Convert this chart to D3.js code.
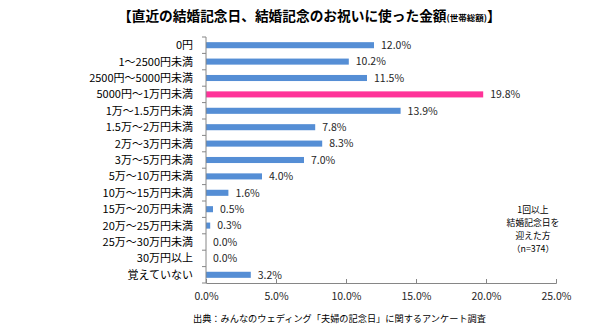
<!DOCTYPE html>
<html>
<head>
<meta charset="utf-8">
<script src="https://cdn.jsdelivr.net/npm/d3@7"></script>
<style>
body { margin: 0; background: #fff; }
svg { display: block; font-family: "Noto Sans CJK JP", sans-serif; }
</style>
</head>
<body>
<svg></svg>
<script>
// chart data
const categories = [
	"0円", "1～2500円未満", "2500円～5000円未満", "5000円～1万円未満",
	"1万～1.5万円未満", "1.5万～2万円未満", "2万～3万円未満", "3万～5万円未満",
	"5万～10万円未満", "10万～15万円未満", "15万～20万円未満", "20万～25万円未満",
	"25万～30万円未満", "30万円以上", "覚えていない"
]
const values = [12.0, 10.2, 11.5, 19.8, 13.9, 7.8, 8.3, 7.0, 4.0, 1.6, 0.5, 0.3, 0.0, 0.0, 3.2]
const highlight = "5000円～1万円未満"
const xTicks = [0, 5, 10, 15, 20, 25]
const noteLines = ["1回以上", "結婚記念日を", "迎えた方", "（n=374）"]

const svg = d3.select("svg")
	.attr("width", 600)
	.attr("height", 330)

const plotLeft = 206, plotRight = 556, plotTop = 37, plotBottom = 283

const x = d3.scaleLinear().domain([0, 25]).range([plotLeft, plotRight])
const y = d3.scaleBand().domain(categories).range([plotTop, plotBottom]).paddingInner(0.63).paddingOuter(0.315)
const rowH = (plotBottom - plotTop) / categories.length

// title
const title = svg.append("text")
	.attr("x", 118).attr("y", 21)
	.style("font-size", "13.7px").style("font-weight", "bold").attr("fill", "#000")
title.append("tspan").text("【直近の結婚記念日、結婚記念のお祝いに使った金額")
title.append("tspan").style("font-size", "8.5px").text("(世帯総額)")
title.append("tspan").text("】")

// bars
svg.append("g").selectAll("rect")
	.data(values)
	.join("rect")
	.attr("x", x(0))
	.attr("y", (d, i) => y(categories[i]))
	.attr("width", d => x(d) - x(0))
	.attr("height", y.bandwidth())
	.attr("fill", (d, i) => categories[i] === highlight ? "#FF3399" : "#558ED5")

// value labels
svg.append("g").selectAll("text")
	.data(values)
	.join("text")
	.attr("x", d => x(d) + 7)
	.attr("y", (d, i) => y(categories[i]) + y.bandwidth() / 2)
	.attr("dy", "0.36em")
	.style("font-size", "10.5px")
	.attr("fill", "#262626")
	.text(d => d.toFixed(1) + "%")

// left axis, ticks sit between the rows
const yAxis = svg.append("g")
yAxis.append("line")
	.attr("x1", plotLeft).attr("x2", plotLeft).attr("y1", plotTop).attr("y2", plotBottom)
	.attr("stroke", "#868686")
yAxis.selectAll("line.tick")
	.data(d3.range(categories.length + 1))
	.join("line")
	.attr("class", "tick")
	.attr("x1", plotLeft - 4).attr("x2", plotLeft)
	.attr("y1", i => plotTop + i * rowH)
	.attr("y2", i => plotTop + i * rowH)
	.attr("stroke", "#868686")
yAxis.selectAll("text")
	.data(categories)
	.join("text")
	.attr("x", 193)
	.attr("y", d => y(d) + y.bandwidth() / 2)
	.attr("dy", "0.36em")
	.attr("text-anchor", "end")
	.style("font-size", "11px")
	.attr("fill", "#000")
	.text(d => d)

// bottom axis
const xAxis = svg.append("g")
	.attr("transform", `translate(0,${plotBottom})`)
	.call(d3.axisBottom(x).tickValues(xTicks).tickSize(-4).tickPadding(10).tickFormat(d => d.toFixed(1) + "%"))
xAxis.select(".domain").attr("stroke", "#868686")
xAxis.selectAll(".tick line").attr("stroke", "#868686")
xAxis.selectAll(".tick text")
	.style("font-size", "10.5px")
	.style("font-family", "\"Noto Sans CJK JP\", sans-serif")
	.attr("fill", "#262626")

// note
svg.append("text")
	.attr("x", 533).attr("y", 213)
	.attr("text-anchor", "middle")
	.style("font-size", "8.8px")
	.attr("fill", "#000")
	.selectAll("tspan")
	.data(noteLines)
	.join("tspan")
	.attr("x", 533)
	.attr("dy", (d, i) => i === 0 ? 0 : 13)
	.text(d => d)

// source
svg.append("text")
	.attr("x", 193).attr("y", 322)
	.style("font-size", "9.2px")
	.attr("fill", "#000")
	.text("出典：みんなのウェディング「夫婦の記念日」に関するアンケート調査")
</script>
</body>
</html>
